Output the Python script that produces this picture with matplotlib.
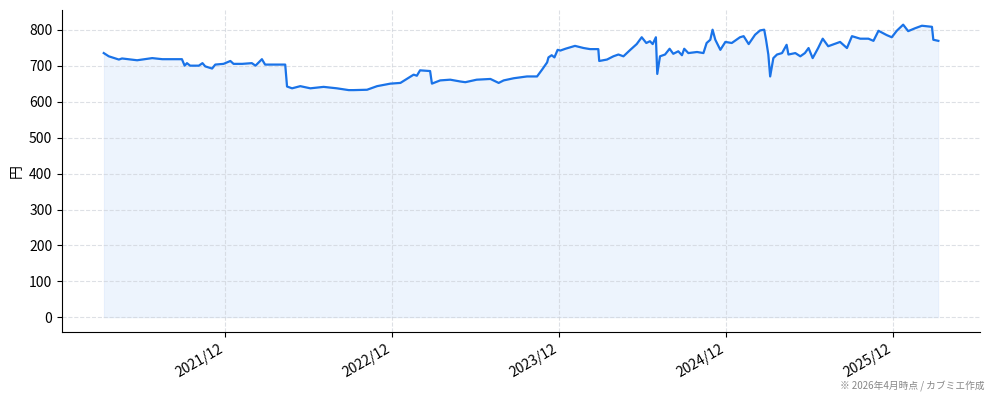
import matplotlib
matplotlib.use("Agg")
import matplotlib.pyplot as plt
import matplotlib.dates as mdates
import pandas as pd

plt.rcParams['font.family'] = ['Noto Sans CJK JP', 'DejaVu Sans']

# price history (yen)
dates = [
    "2021-03-10", "2021-03-21", "2021-04-12", "2021-04-19", "2021-05-22", "2021-06-24",
    "2021-07-16", "2021-08-28", "2021-09-03", "2021-09-08", "2021-09-15", "2021-10-04",
    "2021-10-12", "2021-10-18", "2021-11-02", "2021-11-09", "2021-11-27", "2021-12-12",
    "2021-12-19", "2022-01-07", "2022-01-28", "2022-02-05", "2022-02-12", "2022-02-19",
    "2022-02-26", "2022-03-20", "2022-04-11", "2022-04-15", "2022-04-26", "2022-05-14",
    "2022-06-05", "2022-07-04", "2022-08-02", "2022-08-28", "2022-09-08", "2022-10-07",
    "2022-10-29", "2022-11-27", "2022-12-19", "2023-01-02", "2023-01-17", "2023-01-24",
    "2023-01-31", "2023-02-22", "2023-02-26", "2023-03-16", "2023-04-07", "2023-04-29",
    "2023-05-10", "2023-06-04", "2023-07-04", "2023-07-22", "2023-08-02", "2023-08-24",
    "2023-09-22", "2023-10-14", "2023-10-25", "2023-11-05", "2023-11-08", "2023-11-15",
    "2023-11-21", "2023-11-28", "2023-12-04", "2023-12-15", "2024-01-05", "2024-01-24",
    "2024-02-07", "2024-02-25", "2024-02-27", "2024-03-15", "2024-03-29", "2024-04-09",
    "2024-04-20", "2024-05-05", "2024-05-19", "2024-05-30", "2024-06-09", "2024-06-17",
    "2024-06-23", "2024-06-30", "2024-07-03", "2024-07-09", "2024-07-20", "2024-07-30",
    "2024-08-07", "2024-08-18", "2024-08-26", "2024-08-31", "2024-09-09", "2024-09-28",
    "2024-10-12", "2024-10-19", "2024-10-27", "2024-11-01", "2024-11-07", "2024-11-18",
    "2024-11-29", "2024-12-13", "2024-12-31", "2025-01-08", "2025-01-19", "2025-02-02",
    "2025-02-13", "2025-02-22", "2025-02-26", "2025-03-03", "2025-03-07", "2025-03-14",
    "2025-03-22", "2025-04-02", "2025-04-12", "2025-04-16", "2025-05-01", "2025-05-12",
    "2025-05-22", "2025-05-30", "2025-06-08", "2025-06-20", "2025-06-30", "2025-07-12",
    "2025-07-31", "2025-08-07", "2025-08-22", "2025-09-02", "2025-09-20", "2025-10-08",
    "2025-10-19", "2025-10-30", "2025-11-17", "2025-11-28", "2025-12-09", "2025-12-23",
    "2026-01-03", "2026-01-18", "2026-02-02", "2026-02-24", "2026-02-27", "2026-03-10",
]
prices = [
    735, 726, 717, 720, 715, 721,
    718, 718, 700, 707, 700, 700,
    707, 698, 692, 703, 705, 713,
    705, 705, 707, 700, 709, 718,
    703, 703, 703, 642, 637, 643,
    637, 641, 637, 632, 632, 633,
    643, 650, 652, 663, 675, 672,
    687, 685, 650, 659, 661, 656,
    654, 661, 663, 652, 659, 665,
    670, 670, 689, 709, 723, 729,
    723, 744, 742, 747, 755, 749,
    746, 746, 713, 717, 726, 731,
    726, 744, 760, 779, 763, 768,
    760, 779, 677, 726, 731, 747,
    733, 740, 729, 747, 735, 738,
    735, 763, 772, 800, 772, 744,
    766, 763, 779, 782, 760, 786,
    798, 800, 772, 731, 670, 721,
    731, 735, 758, 731, 735, 726,
    735, 749, 721, 749, 775, 754,
    763, 766, 749, 782, 775, 775,
    769, 797, 785, 779, 797, 814,
    796, 804, 811, 808, 772, 769,
]
note = "※ 2026年4月時点 / カブミエ作成"

x = pd.to_datetime(dates)
color = "#1a73e8"

fig, ax = plt.subplots(figsize=(9.94, 4.01), dpi=100)
plt.subplots_adjust(left=0.0624, right=0.986, top=0.975, bottom=0.172)

ax.plot(x, prices, color=color, linewidth=1.6)
ax.fill_between(x, prices, 0, color=color, alpha=0.08, linewidth=0.5)

ax.set_ylabel("円", fontsize=10)
ax.set_yticks(range(0, 801, 100))
ax.xaxis.set_major_locator(mdates.MonthLocator(bymonth=12))
ax.xaxis.set_major_formatter(mdates.DateFormatter("%Y/%m"))
ax.tick_params(labelsize=10)
for lab in ax.get_xticklabels():
    lab.set_rotation(30)
    lab.set_ha("right")

ax.grid(True, linestyle="--", color="#cfd3da", alpha=0.7, linewidth=0.8)
ax.spines["top"].set_visible(False)
ax.spines["right"].set_visible(False)

fig.text(0.991, 0.025, note, ha="right", va="bottom", fontsize=7, color="#888888")

plt.savefig("out.png")
